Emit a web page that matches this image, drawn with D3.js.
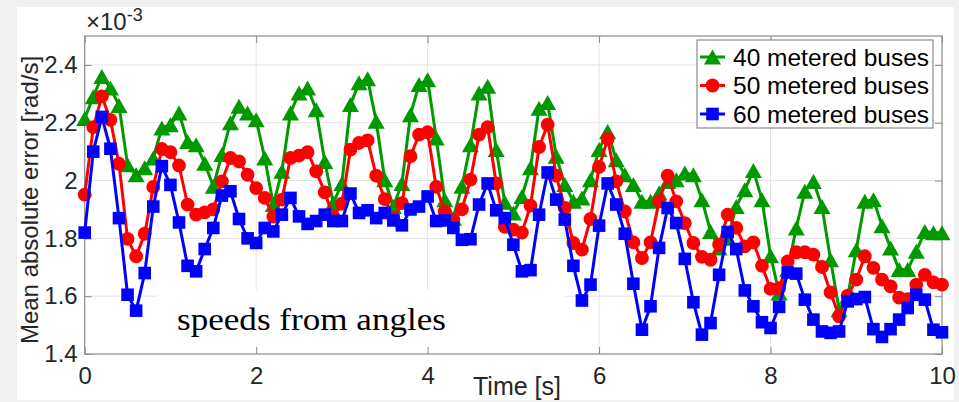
<!DOCTYPE html>
<html>
<head>
<meta charset="utf-8">
<script src="https://cdn.jsdelivr.net/npm/d3@7"></script>
<style>
  body { margin: 0; background: #f0f0f0; }
  svg { display: block; }
</style>
</head>
<body>
<div id="chart"></div>
<script>
// time axis (s), one sample every 0.1 s
const timeS = [0, 0.1, 0.2, 0.3, 0.4, 0.5, 0.6, 0.7, 0.8, 0.9,
  1, 1.1, 1.2, 1.3, 1.4, 1.5, 1.6, 1.7, 1.8, 1.9,
  2, 2.1, 2.2, 2.3, 2.4, 2.5, 2.6, 2.7, 2.8, 2.9,
  3, 3.1, 3.2, 3.3, 3.4, 3.5, 3.6, 3.7, 3.8, 3.9,
  4, 4.1, 4.2, 4.3, 4.4, 4.5, 4.6, 4.7, 4.8, 4.9,
  5, 5.1, 5.2, 5.3, 5.4, 5.5, 5.6, 5.7, 5.8, 5.9,
  6, 6.1, 6.2, 6.3, 6.4, 6.5, 6.6, 6.7, 6.8, 6.9,
  7, 7.1, 7.2, 7.3, 7.4, 7.5, 7.6, 7.7, 7.8, 7.9,
  8, 8.1, 8.2, 8.3, 8.4, 8.5, 8.6, 8.7, 8.8, 8.9,
  9, 9.1, 9.2, 9.3, 9.4, 9.5, 9.6, 9.7, 9.8, 9.9, 10];

// mean absolute error, in units of 1e-3 rad/s
const mae40 = [2.215, 2.29, 2.36, 2.32, 2.26, 2.055, 2.02, 2.044, 2.078, 2.182, 2.193, 2.234, 2.135,
  2.124, 2.06, 1.98, 2.09, 2.2, 2.257, 2.234, 2.21, 2.078, 1.917, 2.032, 2.234,
  2.303, 2.32, 2.245, 2.066, 1.922, 1.99, 2.263, 2.338, 2.352, 2.205, 2.003, 1.91, 1.99,
  2.228, 2.332, 2.349, 2.147, 1.934, 1.87, 1.98, 2.124, 2.303, 2.326, 2.107, 1.925, 1.888,
  1.945, 2.044, 2.25, 2.27, 2.084, 1.986, 1.928, 1.94, 2.003, 2.107, 2.17, 2.072,
  2.02, 1.986, 1.928, 1.928, 1.957, 1.997, 2.003, 2.026, 2.02, 1.934, 1.824, 1.767, 1.80,
  1.91, 1.968, 2.035, 1.934, 1.74, 1.611, 1.692, 1.836, 1.963, 1.997, 1.91, 1.726, 1.553,
  1.60, 1.761, 1.928, 1.934, 1.844, 1.767, 1.692, 1.692, 1.755, 1.824, 1.819, 1.819];

const mae50 = [1.951, 2.185, 2.291, 2.21, 2.058, 1.798, 1.738, 1.816, 1.978, 2.109, 2.098, 2.052, 1.917,
  1.882, 1.89, 1.90, 1.997, 2.078, 2.066, 2.02, 1.974, 1.94, 1.875, 1.934, 2.078,
  2.086, 2.098, 2.032, 1.959, 1.875, 1.92, 2.107, 2.13, 2.139, 2.017, 1.936, 1.87, 1.922,
  2.084, 2.159, 2.167, 1.978, 1.893, 1.865, 1.9, 2.003, 2.159, 2.185, 1.99, 1.84, 1.83,
  1.82, 1.913, 2.116, 2.193, 2.017, 1.905, 1.784, 1.761, 1.867, 2.047, 2.144, 1.997,
  1.893, 1.786, 1.732, 1.786, 1.928, 2.017, 1.928, 1.853, 1.784, 1.736, 1.726, 1.778, 1.882,
  1.836, 1.772, 1.786, 1.705, 1.625, 1.628, 1.72, 1.752, 1.752, 1.744, 1.701, 1.613, 1.53,
  1.602, 1.657, 1.738, 1.698, 1.657, 1.634, 1.595, 1.59, 1.64, 1.674, 1.648, 1.64];

const mae60 = [1.82, 2.10, 2.22, 2.11, 1.87, 1.605, 1.55, 1.68, 1.91, 2.05, 1.985, 1.855, 1.705,
  1.686, 1.763, 1.836, 1.948, 1.963, 1.867, 1.80, 1.784, 1.836, 1.824, 1.882, 1.94,
  1.876, 1.85, 1.86, 1.882, 1.86, 1.86, 1.955, 1.888, 1.897, 1.87, 1.888, 1.862, 1.845,
  1.90, 1.91, 1.945, 1.86, 1.862, 1.836, 1.795, 1.797, 1.917, 1.99, 1.897, 1.87, 1.778,
  1.686, 1.69, 1.882, 2.028, 1.934, 1.865, 1.705, 1.585, 1.64, 1.844, 1.99, 1.917,
  1.816, 1.643, 1.484, 1.565, 1.767, 1.905, 1.853, 1.729, 1.579, 1.467, 1.507, 1.674, 1.822,
  1.763, 1.62, 1.565, 1.51, 1.49, 1.563, 1.682, 1.678, 1.588, 1.519, 1.478, 1.473, 1.478,
  1.582, 1.59, 1.597, 1.486, 1.459, 1.486, 1.519, 1.559, 1.605, 1.588, 1.484, 1.475];

const seriesNames = ["40 metered buses", "50 metered buses", "60 metered buses"];
const xTicks = [0, 2, 4, 6, 8, 10];
const yTicks = [1.4, 1.6, 1.8, 2, 2.2, 2.4];

const W = 959, H = 402;
const plot = { left: 84.7, right: 942, top: 36, bottom: 354 };
const sans = "'Liberation Sans', Arial, sans-serif";
const axisGray = "#8a8a8a";
const textColor = "#262626";

const svg = d3.select("#chart").append("svg")
  .attr("width", W)
  .attr("height", H);

// figure background
svg.append("rect").attr("width", W).attr("height", H).attr("fill", "#f0f0f0");
svg.append("rect").attr("x", 17).attr("y", 7).attr("width", 937).attr("height", 393).attr("fill", "#fff");

const x = d3.scaleLinear().domain([0, 10]).range([plot.left, plot.right]);
const y = d3.scaleLinear().domain([1.4, 2.5]).range([plot.bottom, plot.top]);

// grid
const grid = svg.append("g").attr("stroke", "#e4e4e4").attr("stroke-width", 1);
grid.selectAll(".gx").data(xTicks.slice(1, -1)).enter().append("line")
  .attr("x1", d => x(d)).attr("x2", d => x(d))
  .attr("y1", plot.top).attr("y2", plot.bottom);
grid.selectAll(".gy").data(yTicks.slice(1)).enter().append("line")
  .attr("x1", plot.left).attr("x2", plot.right)
  .attr("y1", d => y(d)).attr("y2", d => y(d));

// white background of the annotation
svg.append("rect")
  .attr("x", 157).attr("y", 290)
  .attr("width", 408).attr("height", plot.bottom - 290)
  .attr("fill", "#fff");

svg.append("text")
  .attr("x", 177).attr("y", 330)
  .attr("font-family", "'Liberation Serif', 'Times New Roman', serif")
  .attr("font-size", 32)
  .attr("textLength", 269)
  .attr("lengthAdjust", "spacingAndGlyphs")
  .attr("fill", "#000")
  .text("speeds from angles");

// axes
function styleAxis(g) {
  g.select(".domain").remove();
  g.selectAll(".tick line").attr("stroke", axisGray);
  g.selectAll(".tick text")
    .attr("fill", textColor)
    .style("font-family", sans)
    .style("font-size", "24px");
}

svg.append("g")
  .attr("transform", `translate(0,${plot.bottom})`)
  .call(d3.axisBottom(x).tickValues(xTicks).tickSize(-7).tickPadding(13))
  .call(styleAxis);
svg.append("g")
  .attr("transform", `translate(0,${plot.top})`)
  .call(d3.axisTop(x).tickValues(xTicks).tickSize(-7).tickFormat(""))
  .call(styleAxis);
svg.append("g")
  .attr("transform", `translate(${plot.left},0)`)
  .call(d3.axisLeft(y).tickValues(yTicks).tickSize(-7).tickPadding(7).tickFormat(d3.format("~g")))
  .call(styleAxis);
svg.append("g")
  .attr("transform", `translate(${plot.right},0)`)
  .call(d3.axisRight(y).tickValues(yTicks).tickSize(-7).tickFormat(""))
  .call(styleAxis);

svg.append("rect")
  .attr("x", plot.left).attr("y", plot.top)
  .attr("width", plot.right - plot.left).attr("height", plot.bottom - plot.top)
  .attr("fill", "none").attr("stroke", axisGray).attr("stroke-width", 1.2);

// exponent label
const expo = svg.append("text").attr("x", 86).attr("y", 30)
  .attr("font-family", sans).attr("fill", textColor);
expo.append("tspan").attr("font-size", 24).text("\u00d710");
expo.append("tspan").attr("font-size", 18).attr("dy", -9).text("-3");

// axis labels
svg.append("text")
  .attr("x", 517).attr("y", 395)
  .attr("text-anchor", "middle")
  .attr("font-family", sans).attr("font-size", 25)
  .attr("fill", textColor)
  .text("Time [s]");
svg.append("text")
  .attr("transform", "translate(38,200) rotate(-90)")
  .attr("text-anchor", "middle")
  .attr("font-family", sans).attr("font-size", 24)
  .attr("fill", textColor)
  .text("Mean absolute error [rad/s]");

// series
const colors = ["#009900", "#ff0000", "#0000ff"];
const markers = [
  "M0,-7.5L8.5,7.5L-8.5,7.5Z",
  d3.symbol(d3.symbolCircle, 150)(),
  "M-6.3,-6.3H6.3V6.3H-6.3Z"
];
const seriesValues = [mae40, mae50, mae60];

const line = d3.line().x(d => x(d[0])).y(d => y(d[1]));

seriesValues.forEach((vals, i) => {
  const pts = timeS.map((t, j) => [t, vals[j]]);
  svg.append("path")
    .datum(pts)
    .attr("d", line)
    .attr("fill", "none")
    .attr("stroke", colors[i])
    .attr("stroke-width", 3)
    .attr("stroke-linejoin", "round");
  svg.append("g").selectAll("path")
    .data(pts)
    .enter()
    .append("path")
    .attr("transform", d => `translate(${x(d[0])},${y(d[1])})`)
    .attr("d", markers[i])
    .attr("fill", colors[i]);
});

// legend
const legend = svg.append("g").attr("transform", "translate(697,40)");
legend.append("rect")
  .attr("width", 236).attr("height", 88)
  .attr("fill", "#fff").attr("stroke", axisGray).attr("stroke-width", 1.2);
const item = legend.selectAll(".item").data(seriesNames).enter().append("g")
  .attr("transform", (d, i) => `translate(0,${17 + i * 28.5})`);
item.append("line")
  .attr("x1", 3).attr("x2", 28)
  .attr("stroke", (d, i) => colors[i]).attr("stroke-width", 3);
item.append("path")
  .attr("transform", "translate(15.5,0)")
  .attr("d", (d, i) => markers[i])
  .attr("fill", (d, i) => colors[i]);
item.append("text")
  .attr("x", 36).attr("y", 8.5)
  .attr("font-family", sans).attr("font-size", 24.5)
  .attr("fill", "#000")
  .text(d => d);
</script>
</body>
</html>
